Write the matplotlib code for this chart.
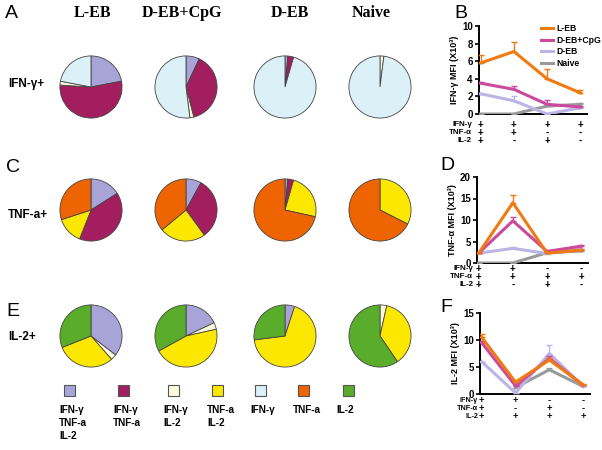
import matplotlib
matplotlib.use('Agg')
import matplotlib.pyplot as plt
import numpy as np
from matplotlib.transforms import blended_transform_factory
from matplotlib.patches import Rectangle

W, H = 602, 450
fig = plt.figure(figsize=(W / 100, H / 100), dpi=100)
SANS = 'Liberation Sans'
SERIF = 'Liberation Serif'

# ---------------- data ----------------
groups = ['L-EB', 'D-EB+CpG', 'D-EB', 'Naive']
subset_labels = ['IFN-γ\nTNF-a\nIL-2', 'IFN-γ\nTNF-a', 'IFN-γ\nIL-2', 'TNF-a\nIL-2',
                 'IFN-γ', 'TNF-a', 'IL-2']
subset_colors = ['#a9a4d8', '#a31e5f', '#fdfbdc', '#fbe700', '#dcf0f8', '#ee6400', '#5aad2a']

row_labels = ['IFN-γ+', 'TNF-a+', 'IL-2+']
# which subsets appear in each pie row (index into subset lists)
ifng_subsets = [0, 1, 2, 4]
tnfa_subsets = [0, 1, 3, 5]
il2_subsets = [0, 2, 3, 6]
# percentages per group (L-EB, D-EB+CpG, D-EB, Naive)
ifng_pies = [[22, 54, 2, 22], [7, 39, 2, 52], [1.5, 3, 0, 95.5], [0, 0, 2, 98]]
tnfa_pies = [[16, 40, 14, 30], [8, 32, 24, 36], [1.5, 3, 24, 71.5], [0, 0, 32.5, 67.5]]
il2_pies = [[35.5, 3, 30.5, 31], [18, 3.5, 45.5, 33], [5, 0, 68, 27], [0, 3.5, 37, 59.5]]

line_groups = ['L-EB', 'D-EB+CpG', 'D-EB', 'Naive']
line_colors = ['#f07a12', '#cc4a9e', '#bbb5e6', '#9a9a9a']

ifng_mfi = [[5.8, 7.1, 4.0, 2.4], [3.5, 2.8, 1.1, 0.8], [2.3, 1.5, 0.0, 0.7], [0.0, 0.0, 0.9, 1.1]]
ifng_sem = [[0.9, 1.1, 1.1, 0.3], [0.1, 0.4, 0.5, 0.1], [0.0, 0.5, 0.0, 0.0], [0.0, 0.0, 0.0, 0.1]]
tnfa_mfi = [[2.3, 14.0, 2.3, 3.0], [2.3, 9.8, 2.7, 3.9], [2.3, 3.4, 2.2, 3.3], [0.0, 0.0, 2.4, 2.8]]
tnfa_sem = [[0.0, 1.7, 0.2, 0.3], [0.0, 1.0, 0.2, 0.4], [0.0, 0.3, 0.0, 0.0], [0.0, 0.0, 0.0, 0.0]]
il2_mfi = [[10.5, 2.2, 6.3, 1.7], [9.5, 1.5, 6.6, 1.6], [6.0, 0.2, 7.5, 1.4], [np.nan, 1.2, 4.5, 1.4]]
il2_sem = [[0.7, 0.2, 0.4, 0.1], [0.3, 0.2, 0.4, 0.1], [0.0, 0.0, 1.5, 0.0], [0.0, 0.0, 0.3, 0.0]]

table_rows = ['IFN-γ', 'TNF-α', 'IL-2']
ifng_signs = [['+', '+', '+', '+'], ['+', '+', '-', '-'], ['+', '-', '+', '-']]
tnfa_signs = [['+', '+', '-', '-'], ['+', '+', '+', '+'], ['+', '-', '+', '-']]
il2_signs = [['+', '+', '-', '-'], ['+', '-', '+', '-'], ['+', '+', '+', '+']]


# ---------------- helpers ----------------
def fx(x):
    return x / W


def fy(y):
    return 1 - y / H


def px_axes(x0, y0, x1, y1):
    return fig.add_axes([x0 / W, 1 - y1 / H, (x1 - x0) / W, (y1 - y0) / H])


# ---------------- pies ----------------
col_x = [91, 186, 285, 380]
row_y = [87, 210, 336]
radius = 31
rows = [(ifng_subsets, ifng_pies), (tnfa_subsets, tnfa_pies), (il2_subsets, il2_pies)]
for r, (subs, pies) in enumerate(rows):
    for c, vals in enumerate(pies):
        cx, cy = col_x[c], row_y[r]
        ax = px_axes(cx - radius - 1, cy - radius - 1, cx + radius + 1, cy + radius + 1)
        cols = [subset_colors[i] for i in subs]
        keep = [i for i, x in enumerate(vals) if x > 0]
        ax.pie([vals[i] for i in keep], colors=[cols[i] for i in keep], startangle=90,
               counterclock=False, radius=1.0,
               wedgeprops=dict(edgecolor='#444444', linewidth=0.6))
        ax.set_xlim(-1.03, 1.03)
        ax.set_ylim(-1.03, 1.03)
        ax.set_axis_off()

for c, g in enumerate(groups):
    fig.text(fx([93, 182, 290, 371][c]), fy(13), g, ha='center', va='center',
             fontsize=11.5, fontweight='bold', family=SERIF)

for r, lab in enumerate(row_labels):
    fig.text(fx(8), fy([84, 215, 337][r]), lab, ha='left', va='center',
             fontsize=8.5, fontweight='bold', family=SANS)

for letter, (x, y) in zip('ABCDEF', [(5, 13), (454, 13), (6, 167), (440, 166), (6, 312), (440, 307)]):
    fig.text(fx(x), fy(y), letter, ha='left', va='center', fontsize=14, family=SANS)

# legend squares
sq_x = [69, 123, 173, 217, 260, 303, 348]
lab_x = [59, 113, 163, 207, 250, 293, 336]
for i in range(len(subset_labels)):
    fig.patches.append(Rectangle((fx(sq_x[i] - 5.5), fy(390 + 5.5)), 11 / W, 11 / H,
                                 transform=fig.transFigure, facecolor=subset_colors[i],
                                 edgecolor='#555555', linewidth=0.8))
    fig.text(fx(lab_x[i]), fy(405), subset_labels[i], ha='left', va='top',
             fontsize=7.2, fontweight='bold', family=SANS, linespacing=1.35)


# ---------------- line charts ----------------
def line_chart(box, ymax, yticks, ylabel, mfi, sem, signs, table_y, label_right, legend=False,
               label_fs=5.8, sign_fs=7.0):
    ax = px_axes(*box)
    xs = np.arange(4)
    order = [3, 2, 1, 0]
    handles = {}
    for k in order:
        y = np.array(mfi[k], dtype=float)
        e = np.array(sem[k], dtype=float)
        ax.errorbar(xs, y, yerr=[np.zeros_like(e), e], color=line_colors[k], lw=2.2,
                    elinewidth=1.0, capsize=2.5, capthick=1.0, zorder=3 + (3 - k))
        h, = ax.plot([], [], color=line_colors[k], lw=2.2)
        handles[k] = h
    ax.set_xlim(-0.05, 3.2)
    ax.set_ylim(0, ymax)
    ax.set_yticks(yticks)
    ax.set_xticks([])
    for s in ['top', 'right']:
        ax.spines[s].set_visible(False)
    for s in ['left', 'bottom']:
        ax.spines[s].set_linewidth(1.4)
    ax.tick_params(axis='y', length=3, width=1.2, labelsize=7, pad=1.5)
    for t in ax.get_yticklabels():
        t.set_fontweight('bold')
        t.set_family(SANS)
    ax.set_ylabel(ylabel, fontsize=6.5, fontweight='bold', family=SANS, labelpad=2)
    tr = blended_transform_factory(ax.transData, fig.transFigure)
    for r in range(3):
        fig.text(fx(label_right), fy(table_y[r]), table_rows[r], ha='right', va='center',
                 fontsize=label_fs, fontweight='bold', family=SANS)
        for i in range(4):
            ax.text(i, fy(table_y[r]), signs[r][i], transform=tr, ha='center', va='center',
                    fontsize=sign_fs, fontweight='bold', family=SANS, clip_on=False)
    if legend:
        ax.legend([handles[k] for k in range(4)], line_groups, loc='upper left',
                  bbox_to_anchor=(fx(541), fy(24)), bbox_transform=fig.transFigure,
                  frameon=False, handlelength=1.4, handletextpad=0.4, labelspacing=0.3,
                  borderpad=0, borderaxespad=0,
                  prop=dict(family=SANS, weight='bold', size=6.2))
    return ax


line_chart((479, 26, 587, 114), 10, [0, 2, 4, 6, 8, 10], 'IFN-γ MFI (X10³)',
           ifng_mfi, ifng_sem, ifng_signs, [125, 133, 141], 472, legend=True)
line_chart((477, 177, 588, 263), 20, [0, 5, 10, 15, 20], 'TNF-α MFI (X10³)',
           tnfa_mfi, tnfa_sem, tnfa_signs, [269, 277, 285], 473)
line_chart((480, 313, 590, 394), 15, [0, 5, 10, 15], 'IL-2 MFI (X10³)',
           il2_mfi, il2_sem, il2_signs, [401, 409, 417], 478, label_fs=5.2, sign_fs=6.8)

fig.savefig('out.png', dpi=100)
